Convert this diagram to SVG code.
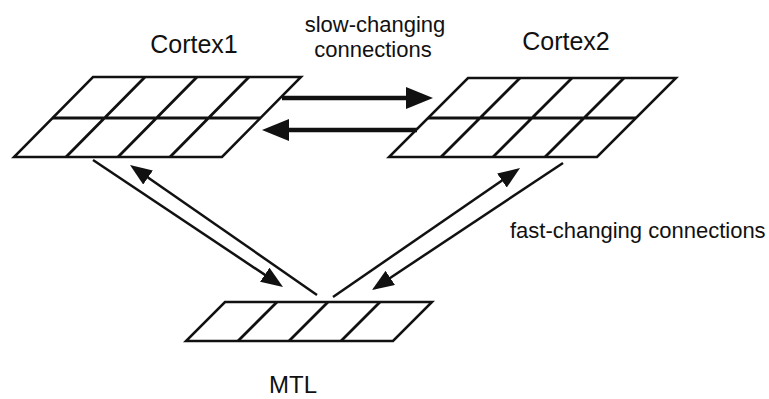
<svg xmlns="http://www.w3.org/2000/svg" width="769" height="399" viewBox="0 0 769 399">
  <style>
    .sheet { fill: #ffffff; stroke: #111111; stroke-width: 2.5; stroke-linejoin: miter; }
    .grid { stroke: #111111; stroke-width: 2.8; fill: none; }
    .label { font-family: "Liberation Sans", Arial, sans-serif; fill: #111111; }
    .big { font-size: 25px; }
    .small { font-size: 22px; }
    .slow { stroke: #111111; stroke-width: 4.5; fill: none; }
    .fast { stroke: #111111; stroke-width: 2.5; fill: none; }
  </style>
  <defs>
    <marker id="headBig" markerUnits="userSpaceOnUse" markerWidth="28" markerHeight="22" viewBox="0 0 28 22" refX="17" refY="11" orient="auto">
      <path d="M0,0 L27,11 L0,22 z" fill="#111111"/>
    </marker>
    <marker id="headSmall" markerUnits="userSpaceOnUse" markerWidth="23" markerHeight="17" viewBox="0 0 23 17" refX="12" refY="8.5" orient="auto">
      <path d="M0,0 L22,8.5 L0,17 z" fill="#111111"/>
    </marker>
  </defs>

  <rect width="769" height="399" fill="#ffffff"/>

  <!-- cortical sheet 1: 4 x 2 grid -->
  <g id="cortex1">
    <polygon class="sheet" points="93,77 301,77 222,157 14,157"/>
    <path class="grid" d="M52.5,118 H260.5 M145,77 L66,157 M197,77 L118,157 M249,77 L170,157"/>
    <text class="label big" x="194" y="53" text-anchor="middle">Cortex1</text>
  </g>

  <!-- cortical sheet 2: 4 x 2 grid -->
  <g id="cortex2">
    <polygon class="sheet" points="468,78 676,78 597,157 389,157"/>
    <path class="grid" d="M428,118 H636 M520,78 L441,157 M572,78 L493,157 M624,78 L545,157"/>
    <text class="label big" x="566" y="50" text-anchor="middle">Cortex2</text>
  </g>

  <!-- medial temporal lobe: 4 x 1 strip -->
  <g id="mtl">
    <polygon class="sheet" points="225,302 432,302 393,341 186,341"/>
    <path class="grid" d="M277,302 L238,341 M328,302 L289,341 M380,302 L341,341"/>
    <text class="label" x="293" y="393" text-anchor="middle" font-size="24">MTL</text>
  </g>

  <!-- connections -->
  <g id="connectors">
    <line class="slow" x1="282" y1="98" x2="423" y2="98" marker-end="url(#headBig)"/>
    <line class="slow" x1="417" y1="130" x2="272" y2="130" marker-end="url(#headBig)"/>
    <line class="fast" x1="93" y1="160" x2="274.7" y2="281.4" marker-end="url(#headSmall)"/>
    <line class="fast" x1="317" y1="295" x2="138.2" y2="170.7" marker-end="url(#headSmall)"/>
    <line class="fast" x1="333" y1="297" x2="511.8" y2="173.7" marker-end="url(#headSmall)"/>
    <line class="fast" x1="563" y1="163" x2="380.3" y2="284.5" marker-end="url(#headSmall)"/>
    <text class="label small" x="375" y="32" text-anchor="middle">slow-changing</text>
    <text class="label small" x="373" y="57" text-anchor="middle">connections</text>
    <text class="label small" x="510" y="238">fast-changing connections</text>
  </g>
</svg>
